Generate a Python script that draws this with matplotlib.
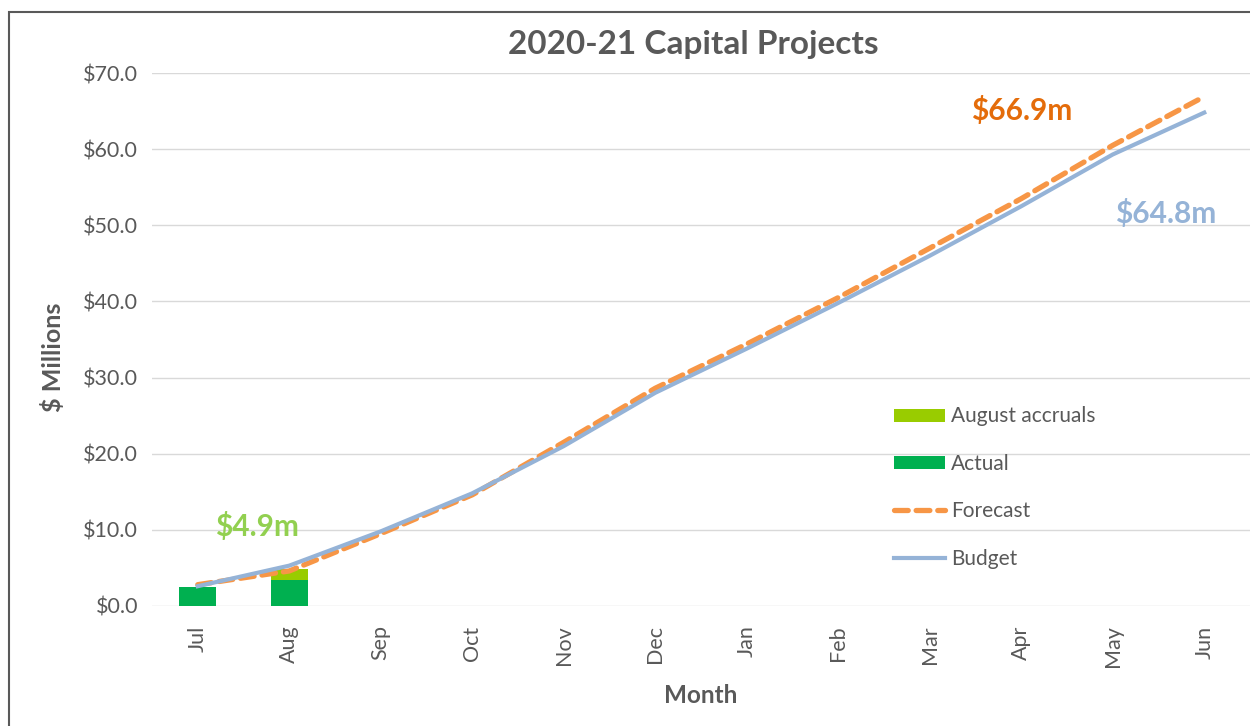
import matplotlib.pyplot as plt
from matplotlib.patches import Rectangle

months = ["Jul", "Aug", "Sep", "Oct", "Nov", "Dec",
          "Jan", "Feb", "Mar", "Apr", "May", "Jun"]
budget = [2.6, 5.3, 9.8, 14.8, 21.0, 28.0, 33.8, 39.8, 46.0, 52.5, 59.3, 64.8]
forecast = [2.8, 4.6, 9.5, 14.6, 21.5, 28.6, 34.4, 40.5, 47.0, 53.5, 60.5, 66.9]
actual = [2.5, 3.4]
accruals = [0.0, 1.5]

GREY = "#595959"
plt.rcParams["font.family"] = ["Lato", "DejaVu Sans"]

fig = plt.figure(figsize=(12.5, 7.26), dpi=100)
ax = fig.add_axes([152 / 1250, 120 / 726, 1098 / 1250, 533 / 726])

x = list(range(len(months)))
xa = x[:len(actual)]
ax.bar(xa, actual, width=0.4, color="#00B050", label="Actual", zorder=2)
ax.bar(xa, accruals, width=0.4, bottom=actual, color="#99CC00",
       label="August accruals", zorder=2)
ax.plot(x, forecast, color="#F79646", lw=3.8, ls=(0, (2.6, 1.5)),
        dash_capstyle="round", label="Forecast", zorder=3)
ax.plot(x, budget, color="#95B3D7", lw=3, label="Budget", zorder=4)

ax.set_xlim(-0.5, len(months) - 0.5)
ax.set_ylim(0, 70)
ax.set_yticks(range(0, 71, 10))
ax.set_yticklabels([f"${v:.1f}" for v in range(0, 71, 10)], fontsize=15.5, color=GREY)
ax.set_xticks(x)
ax.set_xticklabels(months, rotation=90, fontsize=15.5, color=GREY)
ax.tick_params(axis="y", length=0, pad=10)
ax.tick_params(axis="x", length=0, pad=14)
ax.grid(axis="y", color="#D9D9D9", lw=1)
ax.set_axisbelow(True)
for s in ax.spines.values():
    s.set_visible(False)

ax.set_ylabel("$ Millions", fontsize=18, fontweight="bold", color=GREY,
              labelpad=13, y=0.467)
ax.set_xlabel("Month", fontsize=17.5, fontweight="bold", color=GREY, labelpad=12)
fig.text(0.555, 0.939, "2020-21 Capital Projects", ha="center", va="center",
         fontsize=24, fontweight="bold", color=GREY)

ax.text(0.65, 10.4, "$4.9m", color="#92D050", fontsize=21.5, fontweight="bold",
        ha="center", va="center")
ax.text(9.0, 65.1, "$66.9m", color="#E46C0A", fontsize=21.5, fontweight="bold",
        ha="center", va="center")
ax.text(10.58, 51.5, "$64.8m", color="#95B3D7", fontsize=21.5, fontweight="bold",
        ha="center", va="center")

handles, labels = ax.get_legend_handles_labels()
order = ["August accruals", "Actual", "Forecast", "Budget"]
hmap = dict(zip(labels, handles))
leg = ax.legend([hmap[k] for k in order], order, loc="upper left",
                bbox_to_anchor=(0.668, 0.39), frameon=False, fontsize=15,
                labelspacing=1.32, handlelength=2.45, handletextpad=0.3,
                handleheight=0.6, borderaxespad=0)
for t in leg.get_texts():
    t.set_color(GREY)

fig.patches.append(Rectangle((9 / 1250, -0.01), 1.0, 1 - 12 / 726 + 0.01,
                             transform=fig.transFigure, fill=False,
                             edgecolor="#595959", lw=1.5))

fig.savefig("out.png", dpi=100)
